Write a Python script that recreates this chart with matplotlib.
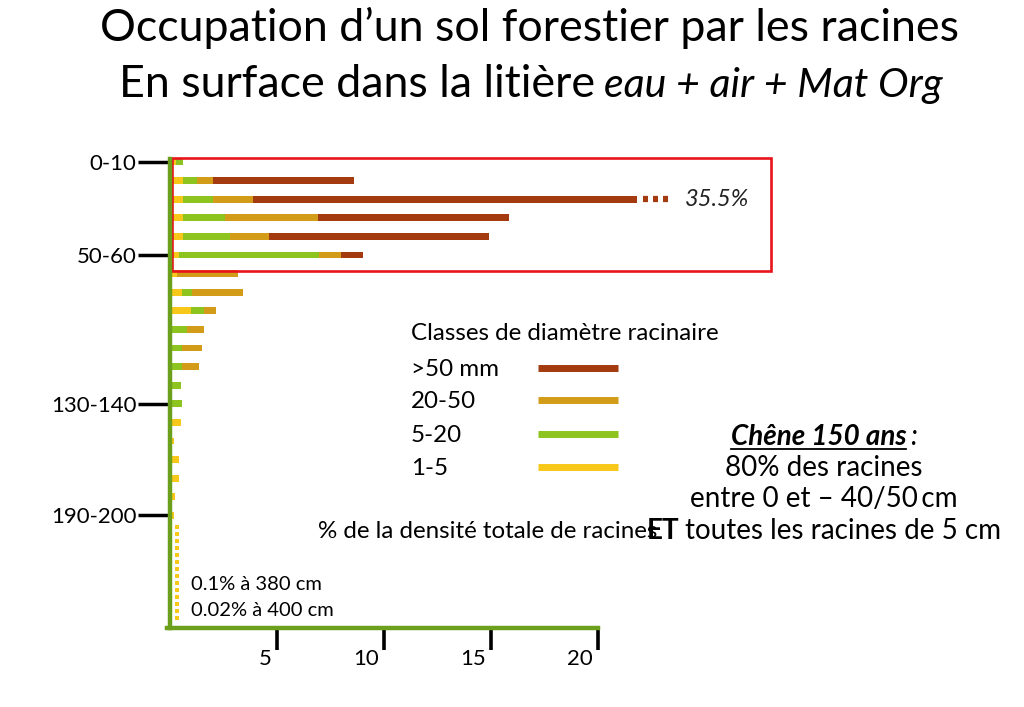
import numpy as np
import matplotlib
matplotlib.use("Agg")
import matplotlib.pyplot as plt
from matplotlib.patches import Rectangle
from matplotlib.lines import Line2D
from matplotlib.transforms import ScaledTranslation

W, H, DPI = 1024, 707, 100
plt.rcParams['font.family'] = ['Lato', 'DejaVu Sans']

# Soil layers of 10 cm, from the surface down to 200 cm
layers = [f"{d}-{d + 10}" for d in range(0, 200, 10)]
labelled_layers = ["0-10", "50-60", "130-140", "190-200"]

# Share of the total root density (%) per diameter class, layer by layer
roots_1_5 = [0.30, 0.60, 0.60, 0.60, 0.60, 0.40, 0.35, 0.55, 1.00, 0.00,
             0.00, 0.00, 0.00, 0.00, 0.50, 0.20, 0.43, 0.42, 0.25, 0.20]
roots_5_20 = [0.30, 0.66, 1.40, 1.97, 2.20, 6.56, 0.00, 0.46, 0.60, 0.78,
              0.55, 0.55, 0.50, 0.55, 0.00, 0.00, 0.00, 0.00, 0.00, 0.00]
roots_20_50 = [0.00, 0.74, 1.90, 4.33, 1.83, 1.02, 2.85, 2.42, 0.56, 0.81,
               0.93, 0.82, 0.00, 0.00, 0.00, 0.00, 0.00, 0.00, 0.00, 0.00]
roots_gt_50 = [0.00, 6.60, 31.60, 8.94, 10.27, 1.02, 0.00, 0.00, 0.00, 0.00,
               0.00, 0.00, 0.00, 0.00, 0.00, 0.00, 0.00, 0.00, 0.00, 0.00]

# Deeper layers (cm) where only traces of fine roots remain
deep_layers_cm = [270, 280, 290, 300, 310, 320, 330, 340, 350, 360, 370, 380, 390, 400]

class_names = [">50 mm", "20-50", "5-20", "1-5"]
x_ticks = [5, 10, 15, 20]

BROWN, ORANGE, GREEN, YELLOW = "#A33A10", "#D39C18", "#8DC41F", "#F7C81A"
AXIS_GREEN, RED = "#6B9F1C", "#E8141B"
AXIS_BREAK = 21.8   # bars longer than this are cut and continued with dots

fig = plt.figure(figsize=(W / DPI, H / DPI), dpi=DPI)
renderer = fig.canvas.get_renderer()


def fx(x):
    return x / W


def fy(y):
    return 1 - y / H


def fit(t, width_px):
    w = t.get_window_extent(renderer).width
    t.set_fontsize(t.get_fontsize() * width_px / w)
    return t


# ---- main axes: x in % of root density, y in layer index (top = surface)
px_per_unit = 21.4
row_px = 18.6
ax_left, ax_right, ax_top, ax_bottom = 170, 1000, 150, 628
ax = fig.add_axes([fx(ax_left), fy(ax_bottom), (ax_right - ax_left) / W,
                   (ax_bottom - ax_top) / H])
ax.set_xlim(0, (ax_right - ax_left) / px_per_unit)
ax.set_ylim((ax_bottom - 162) / row_px, (ax_top - 162) / row_px)
ax.patch.set_visible(False)

rows = np.arange(len(layers))
left = np.zeros(len(layers))
for vals, col in [(roots_1_5, YELLOW), (roots_5_20, GREEN),
                  (roots_20_50, ORANGE), (roots_gt_50, BROWN)]:
    vals = np.asarray(vals)
    shown = np.clip(left + vals, None, AXIS_BREAK) - left
    ax.barh(rows, shown, left=left, height=0.36, color=col, lw=0, zorder=2)
    left = left + vals
totals = left

# the cut bar: dotted continuation and its true value
cut = int(np.argmax(totals))
ax.add_line(Line2D([AXIS_BREAK + 0.3, AXIS_BREAK + 1.55], [cut, cut], color=BROWN,
                   lw=4.5, ls=(0, (0.8, 0.8)), solid_capstyle='butt',
                   dash_capstyle='butt', zorder=2))
ax.text(AXIS_BREAK + 2.25, cut, f"{totals[cut]:.1f}%", style='italic',
        fontsize=17, va='center', ha='left', color='#222222')

# traces of roots in the deep layers
deep_rows = np.linspace(19.6, 24.5, len(deep_layers_cm))
ax.scatter(np.full(len(deep_layers_cm), 0.35), deep_rows, marker='s', s=6,
           color=YELLOW, lw=0, zorder=2)

# highlight of the topsoil 0-60 cm
ax.add_patch(Rectangle((0.09, -0.22), 28.0, 6.08, fill=False, ec=RED, lw=1.9,
                       zorder=3, clip_on=False))

# axes styling
for s in ['top', 'right']:
    ax.spines[s].set_visible(False)
ax.spines['left'].set_color(AXIS_GREEN)
ax.spines['left'].set_linewidth(3.2)
ax.spines['left'].set_bounds(ax.get_ylim()[0], -0.15)
ax.spines['bottom'].set_color(AXIS_GREEN)
ax.spines['bottom'].set_linewidth(3.2)
ax.spines['bottom'].set_bounds(-0.15, 20)
ax.spines['left'].set_zorder(4)

ax.set_yticks([layers.index(l) for l in labelled_layers])
ax.set_yticklabels(labelled_layers, fontsize=16)
ax.tick_params(axis='y', length=23, width=2.5, color='black', pad=1)

ax.set_xticks(x_ticks)
ax.set_xticklabels([str(v) for v in x_ticks], fontsize=16)
ax.tick_params(axis='x', length=16, width=2.6, color='black', pad=-1)
for lab in ax.get_xticklabels():
    lab.set_horizontalalignment('right')
    lab.set_transform(lab.get_transform() +
                      ScaledTranslation(-5 / DPI, 0, fig.dpi_scale_trans))

# ---- titles
t1 = fig.text(fx(530), fy(41), "Occupation d\u2019un sol forestier par les racines",
              ha='center', va='baseline', fontsize=28, color='black')
fit(t1, 860)


def run_line(parts, cx, base_y, gap):
    objs = [fig.text(0, fy(base_y), s, ha='left', va='baseline', **kw)
            for s, kw in parts]
    widths = [o.get_window_extent(renderer).width for o in objs]
    x = cx - (sum(widths) + gap * (len(objs) - 1)) / 2
    for o, w in zip(objs, widths):
        o.set_x(fx(x))
        x += w + gap
    return objs, widths


ts = t1.get_fontsize()
run_line([("En surface dans la liti\u00e8re", dict(fontsize=ts)),
          ("eau + air + Mat Org", dict(fontsize=ts * 0.92, style='italic'))],
         531, 97, 9)

# ---- legend
lt = fig.text(fx(411), fy(340), "Classes de diam\u00e8tre racinaire",
              ha='left', va='baseline', fontsize=16)
fit(lt, 309)
fs = lt.get_fontsize()
for name, col, y in zip(class_names, [BROWN, ORANGE, GREEN, YELLOW],
                        [368, 400, 434, 467]):
    fig.text(fx(411), fy(y + 8), name, ha='left', va='baseline', fontsize=fs)
    fig.add_artist(Line2D([fx(538), fx(618)], [fy(y), fy(y)], color=col, lw=5,
                          solid_capstyle='butt'))

# ---- axis caption and notes
xl = fig.text(fx(318), fy(538), "% de la densit\u00e9 totale de racines",
              ha='left', va='baseline', fontsize=fs)
fig.text(fx(191), fy(590), "0.1% \u00e0 380 cm", ha='left', va='baseline', fontsize=14.5)
fig.text(fx(191), fy(616), "0.02% \u00e0 400 cm", ha='left', va='baseline', fontsize=14.5)

# ---- side comment
cx = 824
fr = fs * 1.15
objs, widths = run_line([("Ch\u00eane 150 ans", dict(fontsize=fr, weight='bold', style='italic')),
                         (":", dict(fontsize=fr, style='italic'))], cx, 445, 4)
x0 = objs[0].get_position()[0]
fig.add_artist(Line2D([x0, x0 + widths[0] / W], [fy(449), fy(449)],
                      color='black', lw=1.3))
fig.text(fx(cx), fy(476), "80% des racines", ha='center', va='baseline', fontsize=fr)
fig.text(fx(cx), fy(507), "entre 0 et \u2013 40/50\u2009cm", ha='center', va='baseline',
         fontsize=fr)
run_line([("ET", dict(fontsize=fr, weight='bold')),
          ("toutes les racines de 5 cm", dict(fontsize=fr))], cx, 539, 6)

fig.savefig("out.png", dpi=DPI)
